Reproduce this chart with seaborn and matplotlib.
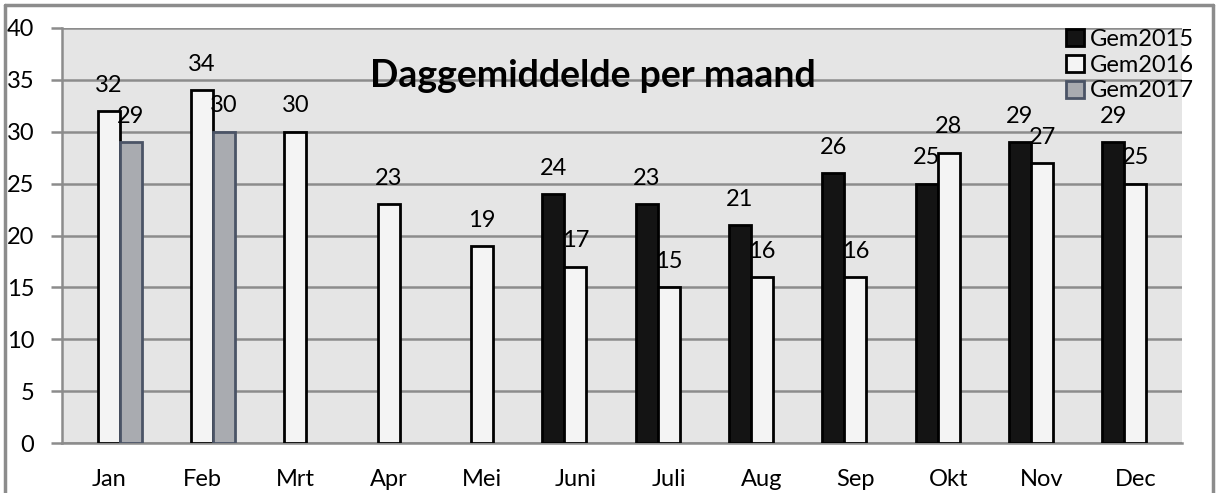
import numpy as np
import pandas as pd
import matplotlib
matplotlib.use("Agg")
import matplotlib.pyplot as plt
import seaborn as sns
from matplotlib.lines import Line2D

months = ["Jan", "Feb", "Mrt", "Apr", "Mei", "Juni", "Juli", "Aug", "Sep", "Okt", "Nov", "Dec"]
gem2015 = [np.nan, np.nan, np.nan, np.nan, np.nan, 24, 23, 21, 26, 25, 29, 29]
gem2016 = [32, 34, 30, 23, 19, 17, 15, 16, 16, 28, 27, 25]
gem2017 = [29, 30, np.nan, np.nan, np.nan, np.nan, np.nan, np.nan, np.nan, np.nan, np.nan, np.nan]
series = ["Gem2015", "Gem2016", "Gem2017"]

df = pd.DataFrame({"maand": months * 3,
                   "waarde": gem2015 + gem2016 + gem2017,
                   "reeks": [s for s in series for _ in months]})

sns.set_style("white")
plt.rcParams["font.family"] = ["Lato", "DejaVu Sans"]
plt.rcParams["text.color"] = "black"
plt.rcParams["xtick.labelcolor"] = "black"
plt.rcParams["ytick.labelcolor"] = "black"

fig = plt.figure(figsize=(12.16, 4.93), dpi=100)
ax = fig.add_axes([62 / 1216, 1 - 443 / 493, 1120 / 1216, 415 / 493])

face = {"Gem2015": "#141414", "Gem2016": "#f4f4f4", "Gem2017": "#a9abb0"}
edge = {"Gem2015": "#000000", "Gem2016": "#000000", "Gem2017": "#4b5466"}

sns.barplot(data=df, x="maand", y="waarde", hue="reeks", order=months, hue_order=series,
            palette=face, width=0.71, saturation=1, ax=ax, legend=False, zorder=3)

for cont, s in zip(ax.containers, series):
    for bar in cont:
        bar.set_edgecolor(edge[s])
        bar.set_linewidth(2)
    ax.bar_label(cont, fmt="%d", padding=11, fontsize=17, color="black")

ax.set_facecolor("#e5e5e5")
ax.set_ylim(0, 40)
ax.set_yticks(range(0, 41, 5))
ax.set_xlim(-0.5, 11.5)
ax.set_xlabel("")
ax.set_ylabel("")
ax.grid(axis="y", color="#8c8c8c", linewidth=1.8, zorder=0)
ax.set_axisbelow(True)
for sp in ["top", "right"]:
    ax.spines[sp].set_visible(False)
for sp in ["left", "bottom"]:
    ax.spines[sp].set_color("#8c8c8c")
    ax.spines[sp].set_linewidth(1.8)

ax.set_xticks(np.arange(-0.5, 12, 1), minor=True)
ax.tick_params(axis="x", which="major", length=0, pad=19, labelsize=17, labelcolor="black")
ax.tick_params(axis="x", which="minor", length=8, width=1.8, color="#8c8c8c", direction="out")
ax.tick_params(axis="y", length=8, width=1.8, color="#8c8c8c", direction="out", pad=12, labelsize=17,
               left=True, labelcolor="black")

ax.text(0.474, 0.885, "Daggemiddelde per maand", transform=ax.transAxes, ha="center", va="center",
        fontsize=27, fontweight="bold", color="black")

handles = [plt.Rectangle((0, 0), 1, 1, facecolor=face[s], edgecolor=edge[s], linewidth=2) for s in series]
ax.legend(handles, series, loc="upper left", bbox_to_anchor=(1066 / 1216, 1 - 29 / 493),
          bbox_transform=fig.transFigure, frameon=False, fontsize=17, handlelength=0.75,
          handleheight=0.75, handletextpad=0.25, labelspacing=0.2, borderpad=0, borderaxespad=0,
          labelcolor="black")

# outer frame
for xs, ys in [([5 / 1216, 5 / 1216], [0, 1 - 5 / 493]),
               ([5 / 1216, 1213 / 1216], [1 - 5 / 493, 1 - 5 / 493]),
               ([1213 / 1216, 1213 / 1216], [0, 1 - 5 / 493])]:
    fig.add_artist(Line2D(xs, ys, color="#8c8c8c", linewidth=2.5))

fig.savefig("out.png", dpi=100)
